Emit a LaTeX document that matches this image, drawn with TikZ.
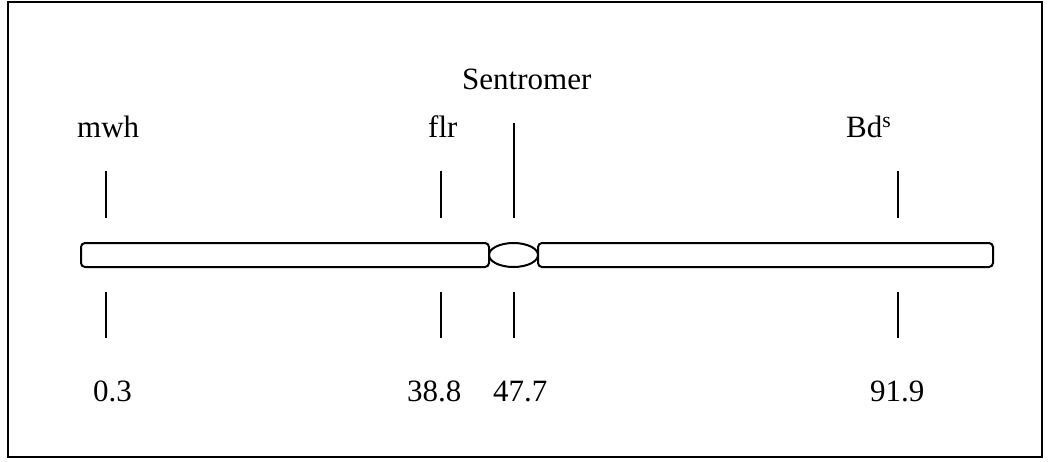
\documentclass[tikz,border=0pt]{standalone}
\usepackage{fontspec}
\setmainfont{Liberation Serif}
\usetikzlibrary{shapes.geometric}
\begin{document}
\begin{tikzpicture}[x=1pt,y=-1pt,
  lbl/.style={inner sep=0pt,anchor=base west,font=\fontsize{31}{36}\selectfont},
  tick/.style={line width=1.4pt},
  chrom/.style={draw,line width=2pt,rounded corners=4pt},
  frame/.style={draw,line width=1.5pt}]
\useasboundingbox (0,0) rectangle (1049,461);
\draw[frame] (8,2) rectangle (1042,457);
% chromosome
\draw[chrom] (81,243) rectangle (489,267);
\draw[chrom] (538,243) rectangle (993,267);
\node[draw,ellipse,line width=2pt,minimum width=49pt,minimum height=24pt,inner sep=0pt] (cen) at (513.5,255) {};
% labels
\node[lbl] (sen) at (462,89) {Sentromer};
\node[lbl] (mwh) at (77,137) {mwh};
\node[lbl] (flr) at (428,137) {flr};
\node[lbl] (bds) at (846,137) {Bd\textsuperscript{s}};
\node[lbl] (n1) at (93,401) {0.3};
\node[lbl] (n2) at (407,401) {38.8};
\node[lbl] (n3) at (493,401) {47.7};
\node[lbl] (n4) at (870,401) {91.9};
% ticks
\coordinate (t1a) at (106,171); \coordinate (t1b) at (106,218);
\coordinate (t2a) at (441,171); \coordinate (t2b) at (441,218);
\coordinate (t3a) at (514,123); \coordinate (t3b) at (514,218);
\coordinate (t4a) at (898,171); \coordinate (t4b) at (898,218);
\coordinate (b1a) at (106,292); \coordinate (b1b) at (106,338);
\coordinate (b2a) at (441,292); \coordinate (b2b) at (441,338);
\coordinate (b3a) at (514,292); \coordinate (b3b) at (514,338);
\coordinate (b4a) at (898,292); \coordinate (b4b) at (898,338);
\draw[tick] (t1a) -- (t1b);
\draw[tick] (t2a) -- (t2b);
\draw[tick] (t3a) -- (t3b);
\draw[tick] (t4a) -- (t4b);
\draw[tick] (b1a) -- (b1b);
\draw[tick] (b2a) -- (b2b);
\draw[tick] (b3a) -- (b3b);
\draw[tick] (b4a) -- (b4b);
\end{tikzpicture}
\end{document}
